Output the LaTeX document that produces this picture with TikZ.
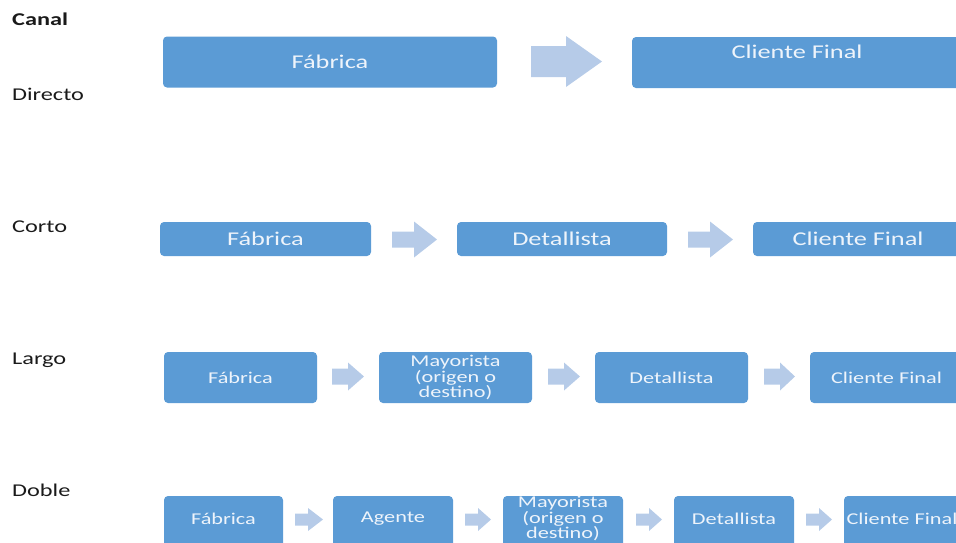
\documentclass[tikz,border=0pt]{standalone}
\usepackage{fontspec}
\setmainfont[FakeStretch=1.35]{Carlito}
\definecolor{boxblue}{HTML}{5B9BD5}
\definecolor{arrowblue}{HTML}{B6CBE8}
\definecolor{boxtxt}{HTML}{EEF4FB}
\definecolor{lbltxt}{HTML}{1A1A1A}
\begin{document}
\begin{tikzpicture}[x=1pt,y=-1pt,
  box/.style={fill=boxblue,draw=none,rounded corners=4pt,inner sep=0pt,
    text=boxtxt,align=center},
  bigtxt/.style={font=\fontsize{19.5}{21}\selectfont},
  smalltxt/.style={font=\fontsize{16.5}{15.5}\selectfont},
  boxlabel/.style={text=boxtxt,align=center,inner sep=0pt,smalltxt},
  rowlabel/.style={anchor=base west,inner sep=0pt,text=lbltxt,font=\fontsize{18}{20}\selectfont},
  blockarrow/.style={fill=arrowblue,draw=none}]
\useasboundingbox (0,0) rectangle (956,542);
% block arrow: x0, xhead, xtip, yc, shaft half, head half
\newcommand{\blkarrow}[6]{%
  \fill[blockarrow] (#1,#4-#5) -- (#2,#4-#5) -- (#2,#4-#6) -- (#3,#4) -- (#2,#4+#6) -- (#2,#4+#5) -- (#1,#4+#5) -- cycle;}
% labels
\node[rowlabel,font=\fontsize{18}{20}\selectfont\bfseries] (canal) at (12,25) {Canal};
\node[rowlabel] (directo) at (12,100) {Directo};
\node[rowlabel] (corto) at (12,232) {Corto};
\node[rowlabel] (largo) at (12,364) {Largo};
\node[rowlabel] (doble) at (12,496) {Doble};
% row 1
\node[box,bigtxt,minimum width=334pt,minimum height=51pt] (d1) at (330,62) {\raisebox{1pt}{Fábrica}};
\blkarrow{531}{566}{602}{61.5}{15.5}{25.5}
\node[box,minimum width=331pt,minimum height=51pt] (d2) at (797.5,62.5) {};
\node[bigtxt,text=boxtxt,inner sep=0pt] (d2t) at (797,52) {Cliente Final};
% row 2
\node[box,bigtxt,minimum width=211pt,minimum height=34pt] (c1) at (265.5,239) {Fábrica};
\blkarrow{392}{414}{437}{239.5}{8}{18}
\node[box,bigtxt,minimum width=210pt,minimum height=34pt] (c2) at (562,239) {Detallista};
\blkarrow{688}{710}{733}{239.5}{8}{18}
\node[box,bigtxt,minimum width=210pt,minimum height=34pt] (c3) at (858,239) {Cliente Final};
% row 3
\node[box,smalltxt,minimum width=153pt,minimum height=51pt] (l1) at (240.5,377.5) {Fábrica};
\blkarrow{332}{348}{364}{376.5}{8}{14}
\node[box,smalltxt,minimum width=153pt,minimum height=51pt] (l2) at (455.5,377.5) {Mayorista\\(origen o\\destino)};
\blkarrow{548}{564}{580}{376.5}{8}{14}
\node[box,smalltxt,minimum width=153pt,minimum height=51pt] (l3) at (671.5,377.5) {Detallista};
\blkarrow{764}{780}{795}{376.5}{8}{14}
\node[box,smalltxt,minimum width=153pt,minimum height=51pt] (l4) at (886.5,377.5) {Cliente Final};
% row 4
\node[box,minimum width=119pt,minimum height=51pt] (b1) at (223.5,521.5) {};
\node[boxlabel] (b1t) at (223.5,519) {Fábrica};
\blkarrow{295}{308}{323}{519.5}{6}{11.5}
\node[box,minimum width=120pt,minimum height=51pt] (b2) at (393,521.5) {};
\node[boxlabel] (b2t) at (393,519) {Agente};
\blkarrow{465}{478}{491}{519.5}{6}{11.5}
\node[box,minimum width=120pt,minimum height=51pt] (b3) at (563,521.5) {};
\node[boxlabel] (b3t) at (563,518.5) {Mayorista\\(origen o\\destino)};
\blkarrow{636}{649}{662}{519.5}{6}{11.5}
\node[box,minimum width=120pt,minimum height=51pt] (b4) at (734,521.5) {};
\node[boxlabel] (b4t) at (734,519) {Detallista};
\blkarrow{806}{819}{832}{519.5}{6}{11.5}
\node[box,minimum width=120pt,minimum height=51pt] (b5) at (904,521.5) {};
\node[boxlabel] (b5t) at (902,519) {Cliente Final};
\end{tikzpicture}
\end{document}
